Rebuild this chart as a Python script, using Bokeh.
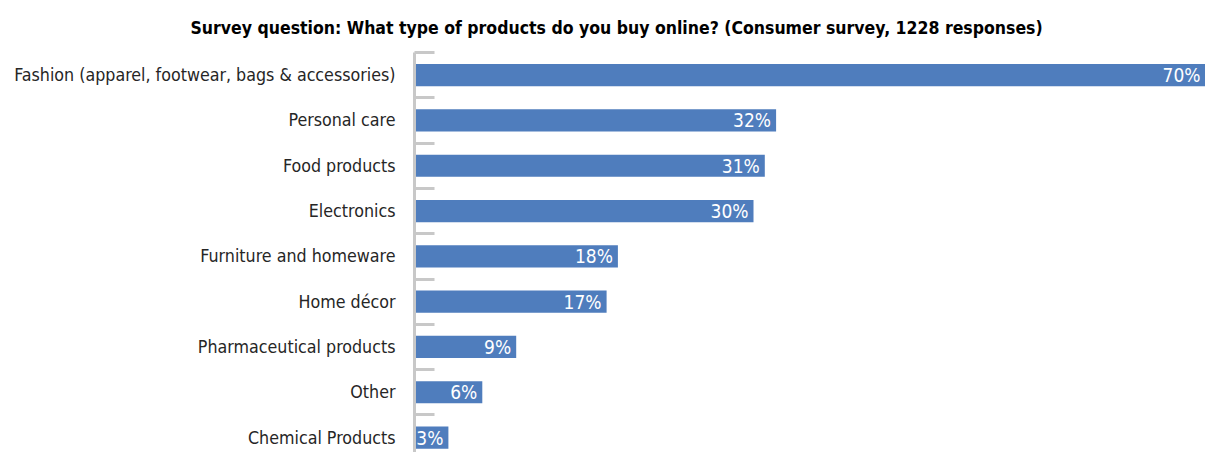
from bokeh.plotting import figure
from bokeh.models import Range1d, FixedTicker, ColumnDataSource, Title
from bokeh.core.properties import value
from bokeh.embed import file_html
from bokeh.resources import INLINE

categories = ["Fashion (apparel, footwear, bags & accessories)", "Personal care",
              "Food products", "Electronics", "Furniture and homeware", "Home décor",
              "Pharmaceutical products", "Other", "Chemical Products"]
values = [70, 32, 31, 30, 18, 17, 9, 6, 3]
title_text = "Survey question: What type of products do you buy online? (Consumer survey, 1228 responses)"

idx = list(range(len(categories)))
labels = [f"{v}%" for v in values]
src = ColumnDataSource(dict(y=idx, v=values, lab=labels))

FONT = "DejaVu Sans Condensed"

p = figure(width=1205, height=452, output_backend="svg", toolbar_location=None,
           x_range=Range1d(0, 70), y_range=Range1d(8.33, -0.5),
           min_border_left=414, min_border_right=0, min_border_bottom=0, min_border_top=20)
p.title = Title(text=title_text, align="left", offset=-224, text_font=FONT,
                text_font_size="17.5px", text_font_style="bold", text_color="#000000",
                standoff=30)
p.outline_line_color = None
p.grid.visible = False
p.xaxis.visible = False
p.background_fill_color = "white"

p.hbar(y="y", right="v", left=0, height=0.49, source=src, color="#4F7DBD", line_color=None)
p.text(x="v", y="y", text="lab", source=src, text_align="right", text_baseline="middle",
       x_offset=-5, text_color="#FFFFFF", text_font=value(FONT), text_font_size="19px")

ax = p.yaxis[0]
ax.ticker = FixedTicker(ticks=idx, minor_ticks=[i - 0.5 for i in idx] + [len(idx) - 0.5])
ax.major_label_overrides = {i: c for i, c in zip(idx, categories)}
ax.major_tick_line_color = None
ax.major_tick_in = 0
ax.major_tick_out = 0
ax.minor_tick_in = 20
ax.minor_tick_out = 0
ax.minor_tick_line_color = "#C8C8C8"
ax.minor_tick_line_width = 3
ax.axis_line_color = "#C8C8C8"
ax.axis_line_width = 3
ax.major_label_standoff = 19
ax.major_label_text_font = FONT
ax.major_label_text_font_size = "17.7px"
ax.major_label_text_color = "#262626"

open("out.html", "w").write(file_html(p, INLINE))
